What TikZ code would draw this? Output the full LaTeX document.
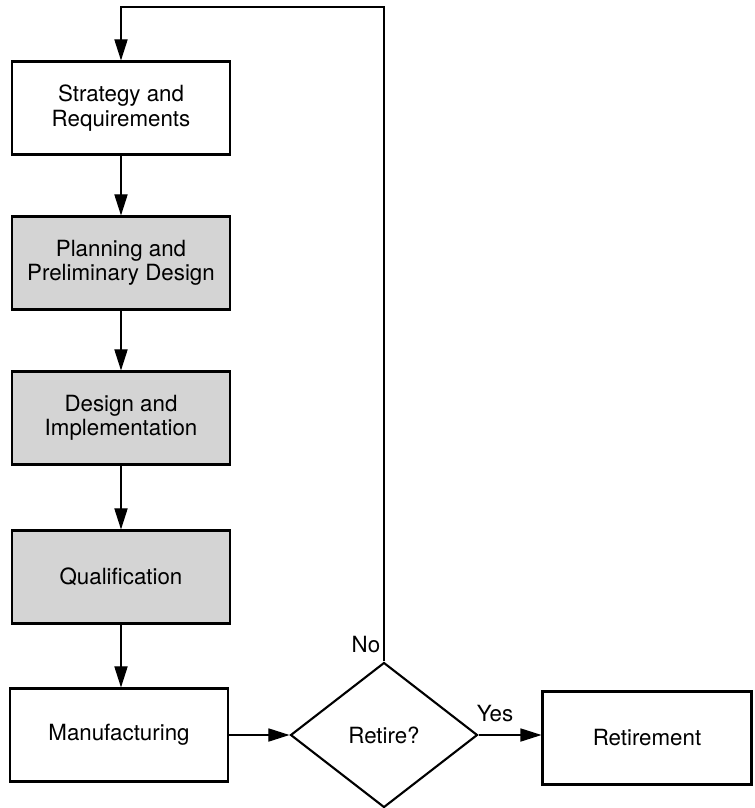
\documentclass[tikz,border=0pt]{standalone}
\usepackage{fontspec}
\setmainfont{TeX Gyre Heros}
\usetikzlibrary{shapes.geometric,arrows.meta}

\begin{document}
\begin{tikzpicture}[x=0.02cm,y=-0.02cm,
  box/.style={draw, line width=1.2pt, minimum width=4.36cm, minimum height=1.86cm, align=center, font=\fontsize{12.7}{13.8}\selectfont},
  shaded/.style={box, fill=black!17},
  flow/.style={line width=0.7pt, -{Triangle[length=12pt,width=7.5pt]}}]
\useasboundingbox (0,0) rectangle (754,808);

\node [box] (0) at (121,108) {Strategy and\\Requirements};
\node [shaded] (1) at (121,263) {Planning and\\Preliminary Design};
\node [shaded] (2) at (121,418) {Design and\\Implementation};
\node [shaded] (3) at (121,577) {Qualification};
\node [box] (4) at (119,735) {Manufacturing};
\node [draw, diamond, line width=1.2pt, inner sep=0pt, minimum width=3.74cm, minimum height=2.9cm, font=\fontsize{12.7}{13.8}\selectfont] (5) at (384,735) {Retire?};
\node [box, minimum width=4.18cm] (6) at (647,738) {Retirement};

\coordinate (7) at (384,7);
\coordinate (8) at (121,7);

\draw [flow] (0) -- (1);
\draw [flow] (1) -- (2);
\draw [flow] (2) -- (3);
\draw [flow] (3) -- (4.north -| 3.south);
\draw [flow] (4) -- (5);
\draw [flow] (5.east) -- (5.east -| 6.west);
\draw [flow] (5.north) -- (7) -- (8) -- (0.north);

\node [font=\fontsize{12.7}{13.8}\selectfont] (9) at (366,645) {No};
\node [font=\fontsize{12.7}{13.8}\selectfont] (10) at (495,714) {Yes};
\end{tikzpicture}
\end{document}
